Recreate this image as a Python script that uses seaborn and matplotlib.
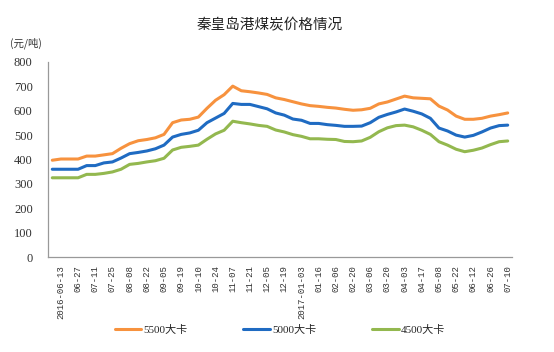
import numpy as np
import pandas as pd
import matplotlib
matplotlib.use("Agg")
import matplotlib.pyplot as plt
import seaborn as sns

dates = [
    "2016-06-06", "2016-06-13", "2016-06-20", "2016-06-27", "2016-07-04", "2016-07-11",
    "2016-07-18", "2016-07-25", "2016-08-01", "2016-08-08", "2016-08-15", "2016-08-22",
    "2016-08-29", "2016-09-05", "2016-09-12", "2016-09-19", "2016-09-26", "2016-10-10",
    "2016-10-17", "2016-10-24", "2016-10-31", "2016-11-07", "2016-11-14", "2016-11-21",
    "2016-11-28", "2016-12-05", "2016-12-12", "2016-12-19", "2016-12-26", "2017-01-03",
    "2017-01-09", "2017-01-16", "2017-01-23", "2017-02-06", "2017-02-13", "2017-02-20",
    "2017-02-27", "2017-03-06", "2017-03-13", "2017-03-20", "2017-03-27", "2017-04-03",
    "2017-04-10", "2017-04-17", "2017-04-24", "2017-05-08", "2017-05-15", "2017-05-22",
    "2017-06-05", "2017-06-12", "2017-06-19", "2017-06-26", "2017-07-03", "2017-07-10",
]

tick_labels = [
    "2016-06-13", "06-27", "07-11", "07-25", "08-08", "08-22", "09-05", "09-19", "10-10",
    "10-24", "11-07", "11-21", "12-05", "12-19", "2017-01-03", "01-16", "02-06", "02-20",
    "03-06", "03-20", "04-03", "04-17", "05-08", "05-22", "06-12", "06-26", "07-10",
]

price_5500 = [397, 402, 402, 402, 414, 414, 419, 424, 446, 465, 477, 482, 489, 503, 551, 562,
              565, 574, 610, 643, 666, 701, 682, 678, 673, 667, 653, 646, 637, 628, 621, 618,
              614, 611, 606, 602, 604, 610, 628, 636, 648, 660, 653, 651, 649, 619, 603, 578,
              565, 565, 569, 578, 584, 591]
price_5000 = [360, 360, 360, 360, 375, 375, 386, 390, 406, 424, 429, 435, 444, 459, 492, 503,
              509, 520, 551, 570, 589, 630, 626, 626, 617, 608, 591, 582, 566, 561, 548, 548,
              543, 540, 536, 536, 537, 551, 573, 585, 595, 607, 598, 587, 569, 529, 517, 500,
              492, 499, 513, 529, 539, 541]
price_4500 = [325, 325, 325, 325, 339, 339, 343, 349, 360, 380, 384, 390, 395, 405, 439, 450,
              454, 459, 483, 505, 520, 557, 551, 546, 540, 536, 521, 513, 502, 495, 485, 485,
              483, 482, 474, 473, 476, 491, 514, 530, 539, 541, 534, 520, 503, 473, 459, 442,
              432, 438, 447, 461, 473, 476]

series_names = ["5500大卡", "5000大卡", "4500大卡"]
colors = ["#F7923E", "#1F6BC2", "#93B84F"]

sns.set_theme(style="white")
plt.rcParams["font.family"] = ["Liberation Serif", "Noto Sans CJK SC", "DejaVu Sans"]

rows = []
for name, vals in zip(series_names, [price_5500, price_5000, price_4500]):
    for i, (d, v) in enumerate(zip(dates, vals)):
        rows.append({"idx": i, "date": d, "price": v, "series": name})
df = pd.DataFrame(rows)

fig = plt.figure(figsize=(5.54, 3.52), dpi=100)
ax = fig.add_axes([48 / 554, 95 / 352, 464 / 554, 195 / 352])

sns.lineplot(data=df, x="idx", y="price", hue="series", hue_order=series_names,
             palette=colors, linewidth=2.2, ax=ax, legend=False, sort=False)

n = len(dates)
ax.set_xlim(-0.5, n - 0.5)
ax.set_ylim(0, 800)
ax.set_yticks(np.arange(0, 801, 100))
ax.set_yticklabels([str(v) for v in range(0, 801, 100)], fontsize=9,
                   family=["Liberation Serif"])

label_pos = np.arange(1, n, 2)
ax.set_xticks(label_pos)
ax.set_xticklabels(tick_labels, rotation=90, fontsize=6.5, family=["Liberation Mono"],
                   va="top")
ax.set_xticks(np.arange(1.5, n, 2), minor=True)
ax.tick_params(axis="x", which="major", length=0, pad=6)
ax.tick_params(axis="x", which="minor", direction="in", length=4, color="#999999", width=0.8)
ax.tick_params(axis="y", direction="in", length=4, color="#999999", width=0.8, pad=11,
               labelcolor="#333333")
ax.tick_params(axis="x", labelcolor="#333333")

ax.set_xlabel("")
ax.set_ylabel("")
for s in ["top", "right"]:
    ax.spines[s].set_visible(False)
for s in ["left", "bottom"]:
    ax.spines[s].set_color("#999999")
    ax.spines[s].set_linewidth(0.9)
ax.grid(False)

fig.text(270 / 554, 1 - 25 / 352, "秦皇岛港煤炭价格情况", ha="center", va="center",
         fontsize=10.5, family=["Noto Sans CJK SC"], color="#222222")
fig.text(10 / 554, 1 - 43 / 352, "(元/吨)", ha="left", va="center", fontsize=7.5,
         family=["Noto Sans CJK SC"], color="#333333")

handles = ax.get_lines()[:3]
leg = fig.legend(handles, series_names, loc="center", bbox_to_anchor=(280 / 554, 1 - 330 / 352),
                 ncol=3, frameon=False, handlelength=2.4, handletextpad=0.2,
                 columnspacing=5.0, prop={"family": ["Liberation Serif", "Noto Sans CJK SC"], "size": 8})

fig.savefig("out.png", dpi=100)
